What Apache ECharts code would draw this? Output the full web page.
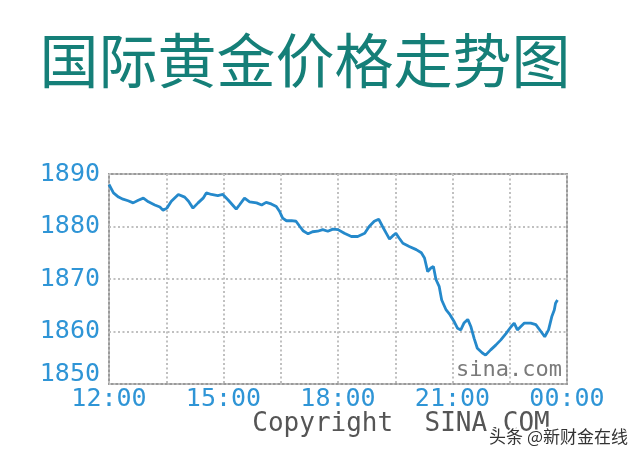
<!DOCTYPE html>
<html>
<head>
<meta charset="utf-8">
<script src="https://cdn.jsdelivr.net/npm/echarts@6/dist/echarts.min.js"></script>
<style>
html,body{margin:0;padding:0;background:#fff;}
#chart{width:640px;height:458px;}
</style>
</head>
<body>
<div id="chart"></div>
<script>
// minutes after 12:00
const times = [0,7,15,22,30,38,46,54,62,72,80,85,91,98,109,119,125,132,140,148,153,161,171,179,187,195,200,205,213,221,232,240,247,255,263,268,273,279,287,294,300,305,313,320,328,336,344,352,360,370,381,391,402,409,417,424,430,436,441,446,451,456,462,472,483,491,496,501,506,510,514,519,523,530,536,543,548,553,558,564,569,574,579,587,592,600,608,616,624,632,637,642,647,653,663,671,679,685,691,696,700,702,705];
const prices = [1888.0,1886.4,1885.6,1885.2,1884.9,1884.5,1885.0,1885.4,1884.7,1884.1,1883.7,1883.1,1883.5,1884.8,1886.1,1885.6,1884.8,1883.5,1884.5,1885.4,1886.4,1886.1,1885.9,1886.1,1885.1,1884.0,1883.3,1884.1,1885.4,1884.7,1884.5,1884.1,1884.6,1884.3,1883.8,1882.9,1881.6,1881.1,1881.1,1881.0,1880.0,1879.2,1878.6,1879.0,1879.1,1879.4,1879.1,1879.5,1879.4,1878.7,1878.1,1878.1,1878.7,1880.0,1881.0,1881.4,1880.0,1878.7,1877.6,1878.2,1878.7,1877.8,1876.8,1876.2,1875.6,1875.0,1874.0,1871.4,1872.1,1872.4,1869.9,1868.6,1866.0,1864.1,1863.2,1861.8,1860.6,1860.3,1861.6,1862.3,1860.9,1858.7,1856.8,1855.9,1855.5,1856.5,1857.4,1858.4,1859.6,1860.9,1861.6,1860.3,1860.9,1861.6,1861.6,1861.3,1860.0,1859.0,1860.3,1862.8,1864.1,1865.4,1866.0];
const xTickLabels = ['12:00','15:00','18:00','21:00','00:00'];
const yTicks = [1850,1860,1870,1880,1890];
const titleText = '国际黄金价格走势图';
const copyrightText = 'Copyright  SINA.COM';
const innerMark = 'sina.com';
const sourceMark = '头条 @新财金在线';

const mono = 'DejaVu Sans Mono';
const labelBlue = '#2f95d6';

const chart = echarts.init(document.getElementById('chart'), null, {renderer: 'canvas'});
const seriesData = times.map((t, i) => [t, prices[i]]);

chart.setOption({
  backgroundColor: '#ffffff',
  animation: false,
  grid: {
    left: 109, right: 73, top: 174, bottom: 74,
    show: true, borderColor: '#9a9a9a', borderWidth: 2, backgroundColor: '#ffffff'
  },
  xAxis: {
    type: 'value', min: 0, max: 720, interval: 90,
    axisLine: {show: false}, axisTick: {show: false},
    splitLine: {show: true, lineStyle: {color: '#c0c0c0', width: 2, type: [2, 2.5]}},
    axisLabel: {
      color: labelBlue, fontFamily: mono, fontSize: 25, margin: 3,
      formatter: v => (v % 180 === 0 ? xTickLabels[v / 180] : '')
    }
  },
  yAxis: {
    type: 'value', min: yTicks[0], max: yTicks[yTicks.length - 1], interval: 10,
    axisLine: {show: false}, axisTick: {show: false},
    splitLine: {show: true, lineStyle: {color: '#c0c0c0', width: 2, type: [2, 2.5]}},
    axisLabel: {
      color: labelBlue, fontFamily: mono, fontSize: 25, margin: 9,
      formatter: v => (v === yTicks[0] ? '{lo|' + v + '}' : String(v)),
      rich: {lo: {color: labelBlue, fontFamily: mono, fontSize: 25, padding: [0, 0, 20, 0]}}
    }
  },
  series: [{
    type: 'line', data: seriesData, showSymbol: false, smooth: false,
    lineStyle: {color: '#2589cb', width: 2.8}, z: 5
  }],
  graphic: [
    {type: 'text', x: 305, y: 61, style: {text: titleText, fill: '#157f78', font: '59px "Noto Sans CJK SC"', align: 'center', verticalAlign: 'middle'}},
    {type: 'text', x: 562, y: 370, z: 10, style: {text: innerMark, fill: '#7a7a7a', font: '22px "DejaVu Sans Mono"', align: 'right', verticalAlign: 'middle'}},
    {type: 'text', x: 401, y: 424, style: {text: copyrightText, fill: '#555555', font: '26px "DejaVu Sans Mono"', align: 'center', verticalAlign: 'middle'}},
    {type: 'text', x: 628, y: 437, z: 20, style: {text: sourceMark, fill: '#333333', stroke: '#ffffff', lineWidth: 3, font: '17px "Noto Sans CJK SC"', align: 'right', verticalAlign: 'middle'}}
  ]
});
</script>
</body>
</html>
